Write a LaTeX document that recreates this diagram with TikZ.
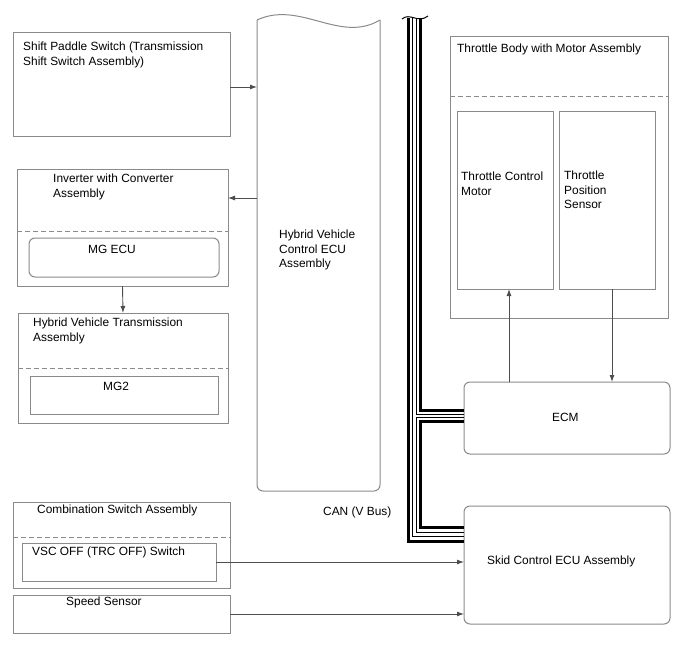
\documentclass[tikz,border=0pt]{standalone}
\usepackage{fontspec}
\setmainfont{Liberation Sans}
\usepackage{tikz}
\usepackage{xcolor}
\usetikzlibrary{positioning}
\usetikzlibrary{arrows.meta}
\usetikzlibrary{calc}
\definecolor{edge}{HTML}{8A8A8A}
\definecolor{wire}{HTML}{4D4D4D}
\tikzset{
  % An outer component box, size given per node
  unit/.style={
    draw=edge, line width=1pt, rectangle, anchor=north west,
    inner sep=0pt, outer sep=0pt},
  % An ECU drawn with round corners
  ecu/.style={unit, rounded corners=6pt},
  % Text set at the top left of a box
  txt/.style={anchor=north west, inner sep=0pt, align=left},
  % Split line inside an assembly
  sep/.style={draw=edge, line width=1pt, dash pattern=on 5pt off 3pt},
  % Signal lines
  sig/.style={-{Latex[length=7pt,width=5pt]}, draw=wire, line width=0.9pt},
  % CAN bus wires
  canthick/.style={draw=black, line width=3pt},
  canthin/.style={draw=black, line width=1pt},
}

\begin{document}
\begin{tikzpicture}[x=1pt, y=-1pt, font=\fontsize{11.9}{14.5}\selectfont]

  \useasboundingbox (0,0) rectangle (688,658);

  % left column
  \node[unit, minimum width=217pt, minimum height=104pt] (shift) at (13,33) {};
  \node[txt] (shifttxt) at (23,42) {Shift Paddle Switch (Transmission\\Shift Switch Assembly)};

  \node[unit, minimum width=211pt, minimum height=117pt] (inv) at (17,169) {};
  \node[txt] (invtxt) at (53,174) {Inverter with Converter\\Assembly};
  \draw[sep] (inv.west |- 0,231) -- (inv.east |- 0,231);
  \node[ecu, minimum width=190pt, minimum height=39pt] (mgecu) at (29,238) {};
  \node[txt] (mgecutxt) at (88,245) {MG ECU};

  \node[unit, minimum width=210pt, minimum height=110pt] (hvt) at (18,313) {};
  \node[txt] (hvttxt) at (33,318) {Hybrid Vehicle Transmission\\Assembly};
  \draw[sep] (hvt.west |- 0,368) -- (hvt.east |- 0,368);
  \node[unit, minimum width=188pt, minimum height=38pt] (mg2) at (30,376) {};
  \node[txt] (mg2txt) at (103,382) {MG2};

  \node[unit, minimum width=217pt, minimum height=86pt] (combo) at (13,502) {};
  \node[txt] (combotxt) at (37,505) {Combination Switch Assembly};
  \draw[sep] (combo.west |- 0,537) -- (combo.east |- 0,537);
  \node[unit, minimum width=194pt, minimum height=38pt] (vsc) at (22,543) {};
  \node[txt] (vsctxt) at (32,547) {VSC OFF (TRC OFF) Switch};

  \node[unit, minimum width=217pt, minimum height=38pt] (speed) at (13,595) {};
  \node[txt] (speedtxt) at (66,597) {Speed Sensor};

  % hybrid vehicle ECU, cut off at the top
  \node[inner sep=0pt, outer sep=0pt, anchor=north west,
        minimum width=123pt, minimum height=471pt] (hv) at (257,20) {};
  \draw[draw=edge, line width=1pt, rounded corners=6pt]
    (hv.north east) -- (hv.south east) -- (hv.south west) -- (hv.north west);
  \draw[draw=edge, line width=1pt]
    (hv.north west) .. controls (300,0) and (340,44) .. (hv.north east);
  \node[txt] (hvtxt) at (279,230) {Hybrid Vehicle\\Control ECU\\Assembly};

  \node[txt] (cantxt) at (323,507) {CAN (V Bus)};

  % right column
  \node[unit, minimum width=218pt, minimum height=281pt] (thb) at (450,37) {};
  \node[txt] (thbtxt) at (457,44) {Throttle Body with Motor Assembly};
  \draw[sep] (thb.west |- 0,97) -- (thb.east |- 0,97);
  \node[unit, minimum width=96pt, minimum height=177pt] (tcm) at (457,112) {};
  \node[txt] (tcmtxt) at (461,172) {Throttle Control\\Motor};
  \node[unit, minimum width=96pt, minimum height=177pt] (tps) at (559,112) {};
  \node[txt] (tpstxt) at (564,171) {Throttle\\Position\\Sensor};

  \node[ecu, minimum width=206pt, minimum height=72pt] (ecm) at (464,382) {};
  \node[txt] (ecmtxt) at (552,413) {ECM};

  \node[ecu, minimum width=206pt, minimum height=118pt] (skid) at (464,506) {};
  \node[txt] (skidtxt) at (487,556) {Skid Control ECU Assembly};

  % signals
  \draw[sig] (shift.east |- 0,87) -- (hv.west |- 0,87);
  \coordinate (invin) at (inv.east |- 0,198);
  \draw[sig] (invin -| hv.west) -- (invin);
  \draw[sig] (inv.south) -- (hvt.north);
  \draw[sig] ([xshift=4pt]tcm.south |- ecm.north) -- ([xshift=4pt]tcm.south);
  \draw[sig] ([xshift=5pt]tps.south) -- ([xshift=5pt]tps.south |- ecm.north);
  \draw[sig] (vsc.east) -- (vsc.east -| skid.west);
  \draw[sig] (speed.east) -- (speed.east -| skid.west);

  % CAN bus
  \draw[canthin] (402,19) .. controls (410,12) and (418,24) .. (428,16);
  \draw[canthick] (408,18) |- (skid.west |- 0,541);
  \draw[canthin] (412,18) |- (skid.west |- 0,536);
  \draw[canthin] (416,18) |- (ecm.west |- 0,414);
  \draw[canthin] (ecm.west |- 0,417) -| (416,532) -- (skid.west |- 0,532);
  \draw[canthick] (420,18) |- (ecm.west |- 0,410);
  \draw[canthick] (ecm.west |- 0,421) -| (420,527) -- (skid.west |- 0,527);

\end{tikzpicture}
\end{document}
